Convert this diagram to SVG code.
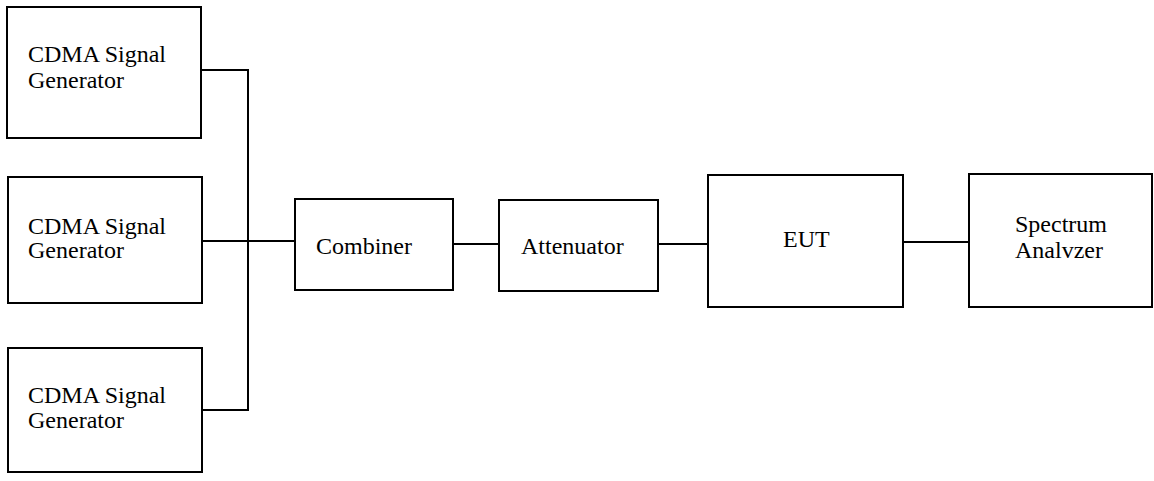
<svg xmlns="http://www.w3.org/2000/svg" width="1154" height="481" viewBox="0 0 1154 481">
<style>
.box{fill:#fff;stroke:#000;stroke-width:2}
.t{font-family:'Liberation Serif','Times New Roman','DejaVu Serif',serif;font-size:24px;fill:#000}
.c{fill:none;stroke:#000;stroke-width:2}
</style>
<rect width="1154" height="481" fill="#fff"/>
<g id="connectors">
<polyline class="c" points="201,70 248,70 248,410 202,410"/>
<line class="c" x1="202" y1="241" x2="295" y2="241"/>
<line class="c" x1="453" y1="244" x2="499" y2="244"/>
<line class="c" x1="658" y1="244" x2="708" y2="244"/>
<line class="c" x1="903" y1="242" x2="969" y2="242"/>
</g>
<g id="gen1">
<rect class="box" x="7" y="7" width="194" height="131"/>
<text class="t" x="28" y="62">CDMA Signal</text>
<text class="t" x="28" y="88">Generator</text>
</g>
<g id="gen2">
<rect class="box" x="8" y="177" width="194" height="126"/>
<text class="t" x="28" y="234">CDMA Signal</text>
<text class="t" x="28" y="258">Generator</text>
</g>
<g id="gen3">
<rect class="box" x="8" y="348" width="194" height="124"/>
<text class="t" x="28" y="403">CDMA Signal</text>
<text class="t" x="28" y="428">Generator</text>
</g>
<g id="combiner">
<rect class="box" x="295" y="199" width="158" height="91"/>
<text class="t" x="316" y="254">Combiner</text>
</g>
<g id="attenuator">
<rect class="box" x="499" y="200" width="159" height="91"/>
<text class="t" x="521" y="254">Attenuator</text>
</g>
<g id="eut">
<rect class="box" x="708" y="175" width="195" height="132"/>
<text class="t" x="783" y="247">EUT</text>
</g>
<g id="analyzer">
<rect class="box" x="969" y="174" width="183" height="133"/>
<text class="t" x="1015" y="232">Spectrum</text>
<text class="t" x="1015" y="258">Analvzer</text>
</g>
</svg>
